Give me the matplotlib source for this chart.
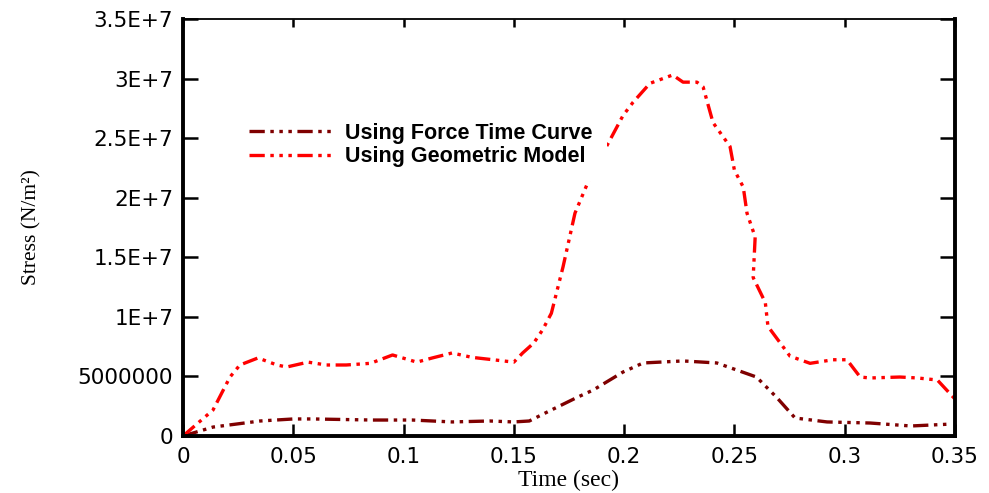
import matplotlib
matplotlib.use("Agg")
import matplotlib.pyplot as plt
from matplotlib.ticker import FixedLocator

# Data
t_geo = [0.0, 0.0136, 0.0213, 0.0258, 0.034, 0.0426, 0.047, 0.0567, 0.065, 0.074, 0.085,
         0.095, 0.106, 0.113, 0.122, 0.131, 0.1406, 0.15, 0.154, 0.159, 0.163, 0.167,
         0.1723, 0.1777, 0.1845, 0.1995, 0.204, 0.2117, 0.222, 0.2267, 0.233, 0.2358,
         0.2403, 0.248, 0.250, 0.254, 0.2557, 0.2594, 0.2585, 0.264, 0.2652, 0.2752,
         0.2843, 0.2947, 0.301, 0.307, 0.3115, 0.325, 0.333, 0.342, 0.35]
s_geo = [0.0, 2.18e6, 4.95e6, 5.96e6, 6.55e6, 5.96e6, 5.79e6, 6.2e6, 5.96e6, 5.96e6, 6.1e6,
         6.8e6, 6.2e6, 6.55e6, 6.97e6, 6.6e6, 6.4e6, 6.2e6, 6.97e6, 7.8e6, 8.9e6, 1.03e7,
         1.42e7, 1.87e7, 2.17e7, 2.69e7, 2.80e7, 2.96e7, 3.03e7, 2.97e7, 2.97e7, 2.93e7,
         2.63e7, 2.43e7, 2.23e7, 2.09e7, 1.87e7, 1.67e7, 1.33e7, 1.12e7, 9.2e6, 6.7e6,
         6.1e6, 6.4e6, 6.4e6, 4.95e6, 4.87e6, 4.95e6, 4.87e6, 4.7e6, 3.1e6]

t_force = [0.0, 0.0136, 0.035, 0.05, 0.059, 0.086, 0.104, 0.122, 0.139, 0.15, 0.157,
           0.165, 0.179, 0.186, 0.1995, 0.2086, 0.2267, 0.242, 0.251, 0.26, 0.269,
           0.2775, 0.292, 0.3115, 0.33, 0.348]
s_force = [0.0, 0.75e6, 1.26e6, 1.43e6, 1.43e6, 1.34e6, 1.34e6, 1.18e6, 1.26e6, 1.18e6, 1.26e6,
           2.0e6, 3.27e6, 3.86e6, 5.37e6, 6.13e6, 6.3e6, 6.13e6, 5.54e6, 4.95e6, 3.27e6,
           1.51e6, 1.18e6, 1.09e6, 0.84e6, 1.0e6]

x_ticks = [0, 0.05, 0.1, 0.15, 0.2, 0.25, 0.3, 0.35]
x_labels = ["0", "0.05", "0.1", "0.15", "0.2", "0.25", "0.3", "0.35"]
y_ticks = [0, 5e6, 1e7, 1.5e7, 2e7, 2.5e7, 3e7, 3.5e7]
y_labels = ["0", "5000000", "1E+7", "1.5E+7", "2E+7", "2.5E+7", "3E+7", "3.5E+7"]

plt.rcParams['lines.scale_dashes'] = False
dash = (0, (11, 4, 2.5, 4, 2.5, 4, 2.5, 4))

fig = plt.figure(figsize=(9.89, 4.93), dpi=100)
ax = fig.add_axes([183/989, 57/493, (955-183)/989, (436-19)/493])

ax.plot(t_force, s_force, color="#7f0000", lw=2.4, linestyle=dash,
        label="Using Force Time Curve")
ax.plot(t_geo, s_geo, color="#ff0000", lw=2.4, linestyle=dash,
        label="Using Geometric Model")

ax.set_xlim(0, 0.35)
ax.set_ylim(0, 3.5e7)
ax.xaxis.set_major_locator(FixedLocator(x_ticks))
ax.yaxis.set_major_locator(FixedLocator(y_ticks))
ax.set_xticklabels(x_labels)
ax.set_yticklabels(y_labels)

for lab in ax.get_xticklabels() + ax.get_yticklabels():
    lab.set_fontfamily("DejaVu Sans")
    lab.set_fontsize(15.5)

ax.tick_params(axis="y", which="both", direction="in", length=10.5, width=1.8,
               color="black", right=True, pad=7)
ax.tick_params(axis="x", which="both", direction="in", length=8.5, width=1.8,
               color="black", bottom=True, pad=8)
ax.tick_params(axis="x", top=True)
for t in ax.xaxis.get_major_ticks():
    t.tick2line.set_markersize(6)

for side in ["left", "right", "bottom"]:
    ax.spines[side].set_linewidth(2.8)
ax.spines["top"].set_linewidth(1.3)

ax.set_xlabel("Time (sec)", fontfamily="Liberation Serif", fontsize=17, labelpad=2)
ax.set_ylabel("Stress (N/m²)", fontfamily="Liberation Serif", fontsize=15.5, labelpad=26)

leg = ax.legend(loc="upper left", bbox_to_anchor=(0.054, 0.81), frameon=True,
                prop=dict(family="Liberation Sans", weight="bold", size=15.5),
                handlelength=3.9, handletextpad=0.55, labelspacing=0.1,
                borderpad=0.65)
leg.get_frame().set_edgecolor("none")
leg.get_frame().set_facecolor("white")
leg.get_frame().set_alpha(1.0)

fig.savefig("out.png", dpi=100)
